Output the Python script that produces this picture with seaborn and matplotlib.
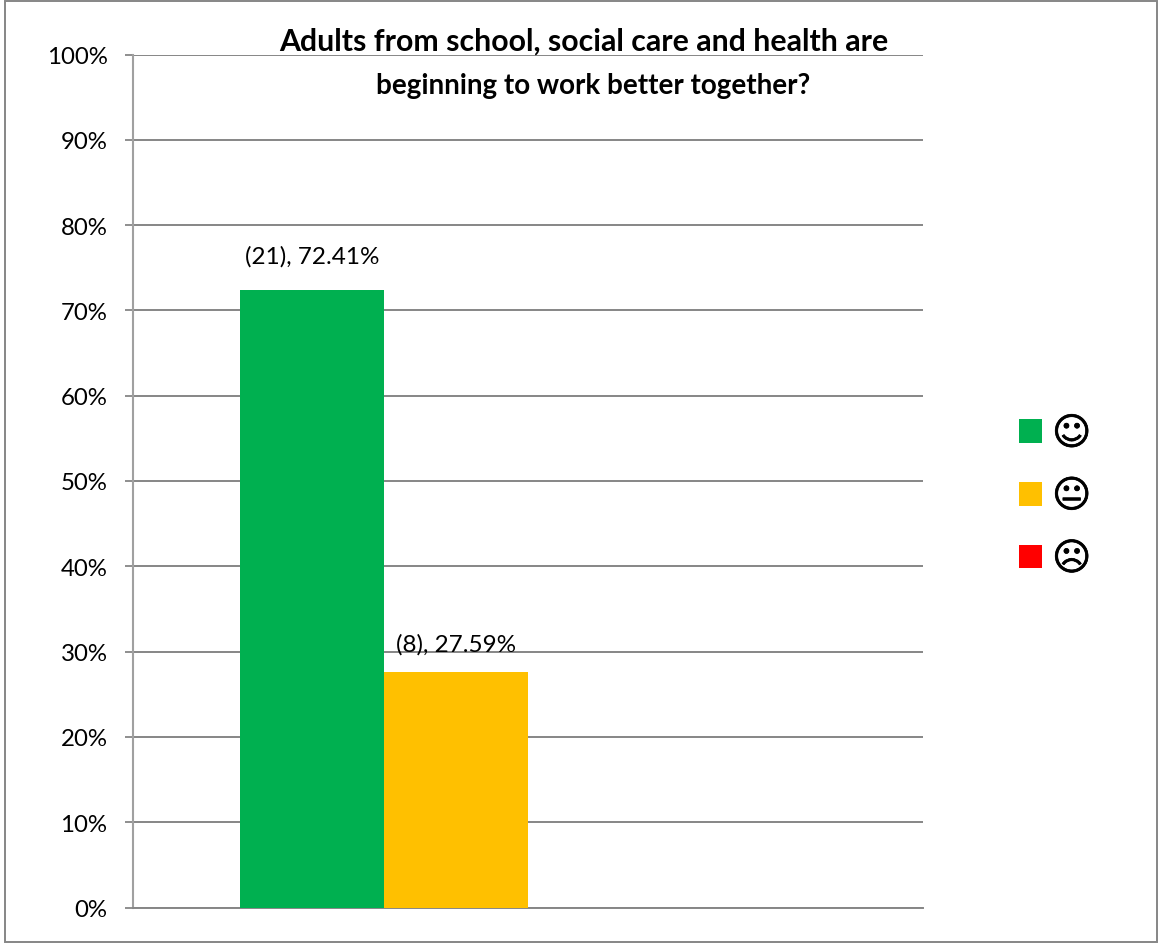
import matplotlib
matplotlib.use("Agg")
import matplotlib.patheffects as pe
import matplotlib.pyplot as plt
import pandas as pd
import seaborn as sns
from matplotlib.patches import Rectangle

# data
question = ["Q1"]
faces = ["\u263a", "\U0001F610", "\u2639"]
hue_levels = faces + ["blank"]
percent = [72.41, 27.59, 0.0]
counts = [21, 8, 0]
colors = ["#00B050", "#FFC000", "#FF0000", "#FFFFFF"]
y_ticks = [0, 10, 20, 30, 40, 50, 60, 70, 80, 90, 100]
title_lines = ["Adults from school, social care and health are", "beginning to work better together?"]

W, H = 1158, 945

sns.set_theme(style="white")
plt.rcParams["font.family"] = ["Lato", "DejaVu Sans"]

df = pd.DataFrame({"q": question * 3, "face": faces, "percent": percent})

fig = plt.figure(figsize=(W / 100, H / 100), dpi=100)
ax = fig.add_axes([132.5 / W, 1 - 908.5 / H, (923 - 132.5) / W, (908.5 - 55.5) / H])

# fourth hue level stays empty, it only keeps the slot free like in the original
sns.barplot(data=df, x="q", y="percent", hue="face", hue_order=hue_levels,
            palette=dict(zip(hue_levels, colors)), width=0.7275, gap=0,
            saturation=1, legend=False, ax=ax, zorder=3, linewidth=0)

ax.set_xlim(-0.5, 0.5)
ax.set_ylim(0, 100)
ax.set_xlabel("")
ax.set_ylabel("")
ax.set_xticks([])
ax.set_yticks(y_ticks)
ax.set_yticklabels([f"{t}%" for t in y_ticks], fontsize=17.3, color="black")
ax.tick_params(axis="y", length=6, width=1.3, color="#868686", pad=12, left=True)

ax.grid(axis="y", color="#868686", linewidth=1.4)
ax.set_axisbelow(True)
for side in ["top", "right"]:
    ax.spines[side].set_visible(False)
ax.spines["left"].set_color("#A0A0A0")
ax.spines["left"].set_linewidth(1.5)
ax.spines["bottom"].set_color("#868686")
ax.spines["bottom"].set_linewidth(1.4)

# data labels
paddings = [16.5, 12.5]
for cont, n, p, pad in zip(ax.containers[:2], counts, percent, paddings):
    ax.bar_label(cont, labels=[f"({n}), {p:.2f}%"], padding=pad, fontsize=17.5, color="black")

# the two title lines are not centred on each other in the original
fig.text(584 / W, 1 - 42 / H, title_lines[0], ha="center", va="center", fontsize=21.8,
         fontweight="bold", color="black")
fig.text(593 / W, 1 - 86 / H, title_lines[1], ha="center", va="center", fontsize=20,
         fontweight="bold", color="black")

# legend with the three faces
leg = ax.legend(ax.containers[:3], faces, loc="center left", bbox_to_anchor=(1019.5 / W, 1 - 498 / H),
                bbox_transform=fig.transFigure, frameon=False, labelcolor="black",
                prop={"family": "DejaVu Sans", "size": 27},
                handlelength=0.6, handleheight=0.6, handletextpad=0.27, labelspacing=0.71,
                borderpad=0, borderaxespad=0)
for txt in leg.get_texts():
    txt.set_path_effects([pe.withStroke(linewidth=0.5, foreground="black")])

# outer chart frame
fig.add_artist(Rectangle((5 / W, 1 - 943 / H), 1152 / W, 941 / H, transform=fig.transFigure,
                         fill=False, edgecolor="#868686", linewidth=1.4))

fig.savefig("out.png", dpi=100)
